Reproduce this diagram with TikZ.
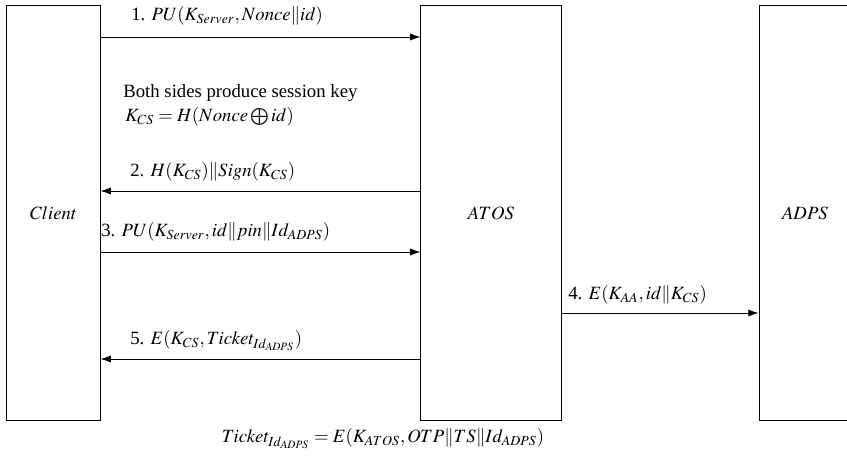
\documentclass[tikz,border=0pt]{standalone}
\usepackage{mathptmx}
\usepackage{fontspec}
\setmainfont{Liberation Serif}
\usetikzlibrary{arrows.meta, positioning}

\begin{document}
\begin{tikzpicture}[x=0.534pt, y=-0.534pt,
    party/.style={draw, line width=0.5pt, minimum height=222.1pt, inner sep=0pt},
    msg/.style={line width=0.5pt, -{Latex[length=5.5pt, width=3.8pt]}},
    lbl/.style={anchor=base west, inner sep=0pt}]
    \useasboundingbox (0, 0) rectangle (847, 462);

    % Parties
    \node[party, minimum width=49.7pt] (client) at (53.5, 213) {$Client$};
    \node[party, minimum width=74.8pt] (atos) at (491, 213) {$ATOS$};
    \node[party, minimum width=49.1pt] (adps) at (805, 213) {$ADPS$};

    % Step 1
    \draw[msg] (client.east |- 0, 37) -- (atos.west |- 0, 37);
    \node[lbl] (m1) at (131, 21) {1. $PU(K_{Server},Nonce\|id)$};

    % Session key
    \node[lbl] (key) at (123, 98) {Both sides produce session key};
    \node[lbl] (keyeq) at (125, 122) {$K_{CS}=H(Nonce\bigoplus id)$};

    % Step 2
    \draw[msg] (atos.west |- 0, 191) -- (client.east |- 0, 191);
    \node[lbl] (m2) at (130, 177) {2. $H(K_{CS})\|Sign(K_{CS})$};

    % Step 3
    \draw[msg] (client.east |- 0, 252) -- (atos.west |- 0, 252);
    \node[lbl] (m3) at (101, 237) {3. $PU(K_{Server},id\|pin\|Id_{ADPS})$};

    % Step 4
    \draw[msg] (atos.east |- 0, 313) -- (adps.west |- 0, 313);
    \node[lbl] (m4) at (568, 300) {4. $E(K_{AA},id\|K_{CS})$};

    % Step 5
    \draw[msg] (atos.west |- 0, 359) -- (client.east |- 0, 359);
    \node[lbl] (m5) at (130, 345) {5. $E(K_{CS},Ticket_{Id_{ADPS}})$};

    % Ticket
    \node[anchor=base, inner sep=0pt] (ticket) at (383, 443)
        {$Ticket_{Id_{ADPS}}=E(K_{ATOS},OTP\|TS\|Id_{ADPS})$};
\end{tikzpicture}
\end{document}
